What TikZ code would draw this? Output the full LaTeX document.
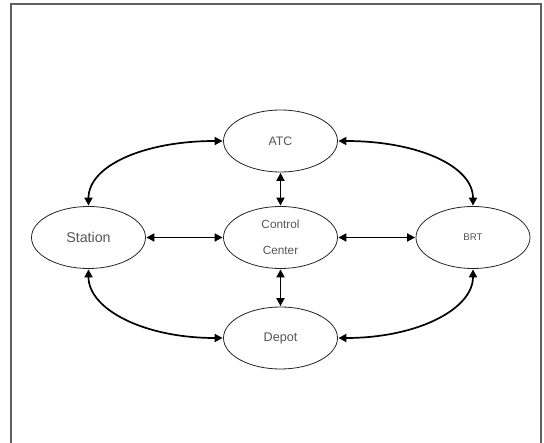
\documentclass[tikz,border=0pt]{standalone}
\usepackage{fontspec}
\setmainfont{Liberation Sans}
\usetikzlibrary{arrows.meta,shapes.geometric}
\definecolor{txt}{HTML}{555555}
\definecolor{frame}{HTML}{606060}
\tikzset{
  ell/.style={draw=black!85, line width=0.8pt, ellipse, minimum width=114pt, minimum height=62pt, inner sep=0pt, text=txt, align=center},
  conn/.style={line width=1.7pt, {Triangle[length=8pt,width=8pt]}-{Triangle[length=8pt,width=8pt]}, shorten <=0.5pt, shorten >=0.5pt},
}
\begin{document}
\begin{tikzpicture}[x=1pt,y=-1pt]
\useasboundingbox (0,0) rectangle (544,443);
\draw[frame, line width=1.5pt] (11,460) -- (11,4) -- (541,4) -- (541,460);
\node[ell, font=\fontsize{12.3}{14}\selectfont] (atc) at (280.5,141) {ATC};
\node[ell, font=\fontsize{14.2}{16}\selectfont] (st) at (88.5,237.5) {Station};
\node[ell, font=\fontsize{11.8}{26}\selectfont] (cc) at (280.5,237.5) {Control\\Center};
\node[ell, font=\fontsize{9.7}{12}\selectfont] (brt) at (473,237.5) {BRT};
\node[ell, font=\fontsize{12.6}{14}\selectfont] (dep) at (280.5,338) {Depot};
\draw[conn] (atc) -- (cc);
\draw[conn] (cc) -- (dep);
\draw[conn] (st) -- (cc);
\draw[conn] (cc) -- (brt);
\draw[conn] (st.north) to[out=90, in=180, out distance=40pt, in distance=80pt] (atc.west);
\draw[conn] (brt.north) to[out=90, in=0, out distance=40pt, in distance=80pt] (atc.east);
\draw[conn] (st.south) to[out=-90, in=180, out distance=40pt, in distance=80pt] (dep.west);
\draw[conn] (brt.south) to[out=-90, in=0, out distance=40pt, in distance=80pt] (dep.east);
\end{tikzpicture}
\end{document}
